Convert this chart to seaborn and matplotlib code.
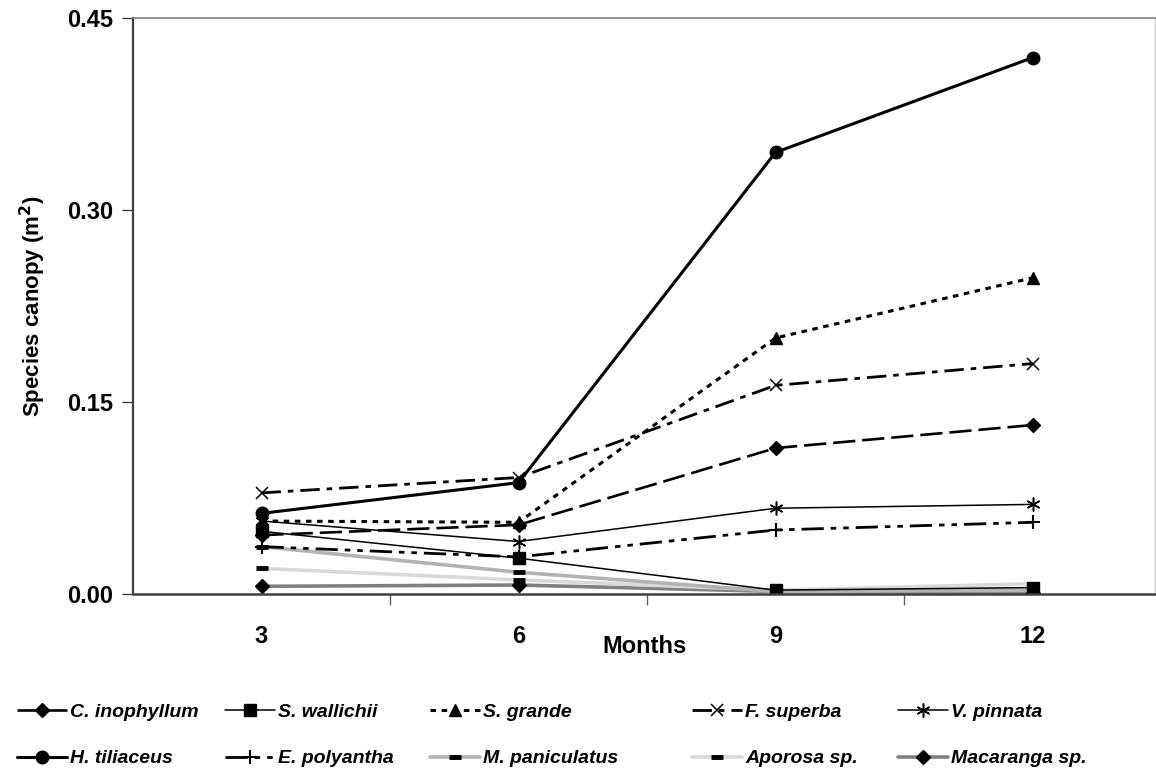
import numpy as np
import pandas as pd
import seaborn as sns
import matplotlib.pyplot as plt

months = ["3", "6", "9", "12"]

c_inophyllum = [0.046, 0.054, 0.114, 0.132]
s_wallichii = [0.049, 0.028, 0.003, 0.005]
s_grande = [0.057, 0.056, 0.200, 0.247]
f_superba = [0.079, 0.091, 0.163, 0.180]
v_pinnata = [0.057, 0.041, 0.067, 0.070]
h_tiliaceus = [0.063, 0.087, 0.345, 0.419]
e_polyantha = [0.037, 0.029, 0.050, 0.056]
m_paniculatus = [0.037, 0.017, 0.002, 0.003]
aporosa = [0.020, 0.011, 0.003, 0.008]
macaranga = [0.006, 0.007, 0.002, 0.001]

species = ["C. inophyllum", "S. wallichii", "S. grande", "F. superba", "V. pinnata",
           "H. tiliaceus", "E. polyantha", "M. paniculatus", "Aporosa sp.", "Macaranga sp."]
valores = [c_inophyllum, s_wallichii, s_grande, f_superba, v_pinnata,
           h_tiliaceus, e_polyantha, m_paniculatus, aporosa, macaranga]

# estilo de cada serie (color, ancho, trazo, marcador, tamaño)
estilos = {
    "C. inophyllum": dict(color="black", lw=1.9, ls=(0, (16, 5)), marker="D", ms=7),
    "S. wallichii": dict(color="black", lw=1.1, ls="-", marker="s", ms=8),
    "S. grande": dict(color="black", lw=2.2, ls=(0, (4, 4)), marker="^", ms=8.5),
    "F. superba": dict(color="black", lw=2.0, ls=(0, (14, 5, 4, 5)), marker="x", ms=8, mew=1.1),
    "V. pinnata": dict(color="black", lw=1.1, ls="-", marker=(6, 2, 0), ms=10, mew=1.1),
    "H. tiliaceus": dict(color="black", lw=2.2, ls="-", marker="o", ms=9),
    "E. polyantha": dict(color="black", lw=2.0, ls=(0, (16, 5, 4, 5, 4, 5)), marker="+", ms=10, mew=1.5),
    "M. paniculatus": dict(color="#b3b3b3", lw=2.6, ls="-", marker="_", ms=8, mew=3.5),
    "Aporosa sp.": dict(color="#d9d9d9", lw=2.6, ls="-", marker="_", ms=8, mew=3.5),
    "Macaranga sp.": dict(color="#808080", lw=2.6, ls="-", marker="D", ms=7.5),
}

sns.set_style("white")
plt.rcParams["font.family"] = ["Liberation Sans", "DejaVu Sans"]
plt.rcParams["font.weight"] = "bold"
plt.rcParams["lines.scale_dashes"] = False
plt.rcParams["text.color"] = "black"
plt.rcParams["axes.labelcolor"] = "black"
plt.rcParams["xtick.color"] = "black"
plt.rcParams["ytick.color"] = "black"

fig = plt.figure(figsize=(11.56, 7.73), dpi=100)
ax = fig.add_axes([133 / 1156, 1 - 594 / 773, (1155 - 133) / 1156, 576 / 773])

lineas = {}
orden_dibujo = ["Macaranga sp.", "Aporosa sp.", "M. paniculatus", "E. polyantha", "V. pinnata",
                "S. wallichii", "C. inophyllum", "F. superba", "S. grande", "H. tiliaceus"]
for nombre in orden_dibujo:
    e = estilos[nombre]
    df = pd.DataFrame({"Months": months, "canopy": valores[species.index(nombre)]})
    sns.lineplot(data=df, x="Months", y="canopy", ax=ax, errorbar=None, sort=False,
                 color=e["color"], linewidth=e["lw"], linestyle=e["ls"],
                 marker=e["marker"], markersize=e["ms"], markeredgewidth=e.get("mew", 1),
                 markerfacecolor="black", markeredgecolor="black", label=nombre)
    lineas[nombre] = ax.get_lines()[-1]

ax.set_ylim(0, 0.45)
ax.set_xlim(-0.5, -0.5 + (1155 - 133) / 257)
ax.set_yticks([0, 0.15, 0.30, 0.45])
ax.set_yticklabels(["0.00", "0.15", "0.30", "0.45"], fontsize=17, fontweight="bold")
ax.tick_params(axis="y", direction="out", length=8, width=1, color="#404040", pad=6, left=True)

# marcas del eje x entre categorias, etiquetas en el centro
ax.set_xticks([0.5, 1.5, 2.5])
ax.set_xticklabels([])
ax.tick_params(axis="x", which="major", direction="out", length=8, width=1, color="#606060", bottom=True)
ax.set_xticks([0, 1, 2, 3], minor=True)
ax.set_xticklabels(months, minor=True, fontsize=17, fontweight="bold")
ax.tick_params(axis="x", which="minor", length=0, pad=22)

ax.set_xlabel("Months", fontsize=17, fontweight="bold")
ax.xaxis.set_label_coords(0.5, -0.072)
ax.set_ylabel("Species canopy (m$^2$)", fontsize=16, fontweight="bold")
ax.yaxis.set_label_coords(-0.083, 0.5)

for lado, col, ancho in [("left", "#404040", 1.6), ("bottom", "#404040", 1.8),
                         ("top", "#808080", 1.2), ("right", "#c8c8c8", 1.0)]:
    ax.spines[lado].set_color(col)
    ax.spines[lado].set_linewidth(ancho)
    ax.spines[lado].set_visible(True)
ax.grid(False)

if ax.get_legend():
    ax.get_legend().remove()

# leyenda: una por columna para fijar su posicion
columnas = [["C. inophyllum", "H. tiliaceus"], ["S. wallichii", "E. polyantha"],
            ["S. grande", "M. paniculatus"], ["F. superba", "Aporosa sp."],
            ["V. pinnata", "Macaranga sp."]]
inicio_x = [17, 225, 430, 692, 898]
for nombres, x0 in zip(columnas, inicio_x):
    fig.legend([lineas[n] for n in nombres], nombres, ncol=1, loc="upper left",
               bbox_to_anchor=(x0 / 1156, 1 - 703 / 773), frameon=False, borderpad=0,
               borderaxespad=0, handlelength=2.55, handletextpad=0.2, labelspacing=1.5,
               prop={"size": 14, "weight": "bold", "style": "italic"})

fig.savefig("out.png", dpi=100)
